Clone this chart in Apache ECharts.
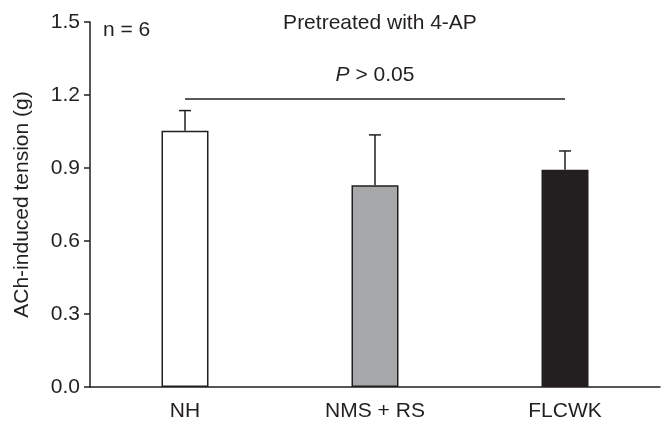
<!DOCTYPE html>
<html>
<head>
<meta charset="utf-8">
<script src="https://cdn.jsdelivr.net/npm/echarts@6/dist/echarts.min.js"></script>
<style>
html,body{margin:0;padding:0;background:#fff;}
#c{width:670px;height:432px;}
</style>
</head>
<body>
<div id="c"></div>
<script>
const categories = ['NH', 'NMS + RS', 'FLCWK'];
const means = [1.053, 0.829, 0.893];
const errUpper = [1.136, 1.036, 0.970];
const barColors = ['#ffffff', '#a7a8aa', '#231f20'];
const yTicks = [0.0, 0.3, 0.6, 0.9, 1.2, 1.5];
const sigLevel = 1.184;
const sigText = '> 0.05';

const FONT = '"Liberation Sans", Arial, sans-serif';
const FS = 21;
const chart = echarts.init(document.getElementById('c'));

const barData = means.map((v, i) => ({
  value: v,
  itemStyle: { color: barColors[i], borderColor: '#231f20', borderWidth: 1.5 }
}));
const errData = means.map((v, i) => [i, v, errUpper[i]]);

chart.setOption({
  animation: false,
  backgroundColor: '#fff',
  title: {
    text: 'Pretreated with 4-AP',
    left: 375, top: 8, textAlign: 'center',
    textStyle: { fontFamily: FONT, fontSize: FS, fontWeight: 'normal', color: '#231f20' }
  },
  graphic: [{
    type: 'text', left: 103, top: 20,
    style: { text: 'n = 6', font: FS + 'px ' + FONT, fill: '#231f20' }
  }],
  grid: { left: 90, right: 10, top: 22, bottom: 45 },
  xAxis: {
    type: 'category',
    data: categories,
    axisLine: { lineStyle: { color: '#231f20', width: 1.5 } },
    axisTick: { length: 8, lineStyle: { color: '#231f20', width: 1.5 } },
    axisLabel: { fontFamily: FONT, fontSize: FS, color: '#231f20', margin: 14 }
  },
  yAxis: {
    type: 'value',
    min: yTicks[0], max: yTicks[yTicks.length - 1], interval: 0.3,
    name: 'ACh-induced tension (g)',
    nameLocation: 'middle', nameGap: 57,
    nameTextStyle: { fontFamily: FONT, fontSize: FS, color: '#231f20' },
    axisLine: { show: true, lineStyle: { color: '#231f20', width: 1.5 } },
    axisTick: { show: true, length: 6, lineStyle: { color: '#231f20', width: 1.5 } },
    splitLine: { show: false },
    axisLabel: { fontFamily: FONT, fontSize: FS, color: '#231f20', margin: 10,
      formatter: v => v.toFixed(1) }
  },
  series: [{
    type: 'bar',
    data: barData,
    barWidth: 47,
    markLine: {
      silent: true, symbol: 'none',
      lineStyle: { color: '#231f20', width: 1.5, type: 'solid' },
      label: {
        show: true, position: 'middle', distance: 13,
        formatter: '{i|P} ' + sigText,
        fontFamily: FONT, fontSize: FS, color: '#231f20',
        rich: { i: { fontStyle: 'italic', fontFamily: FONT, fontSize: FS, color: '#231f20' } }
      },
      data: [[{ coord: [categories[0], sigLevel] }, { coord: [categories[2], sigLevel] }]]
    }
  }, {
    type: 'custom',
    data: errData,
    z: 1,
    renderItem: function (params, api) {
      const b = api.coord([api.value(0), api.value(1)]);
      const t = api.coord([api.value(0), api.value(2)]);
      const cap = 6;
      const st = { stroke: '#231f20', lineWidth: 1.5 };
      return { type: 'group', children: [
        { type: 'line', shape: { x1: b[0], y1: b[1], x2: t[0], y2: t[1] }, style: st },
        { type: 'line', shape: { x1: t[0] - cap, y1: t[1], x2: t[0] + cap, y2: t[1] }, style: st }
      ]};
    }
  }]
});
</script>
</body>
</html>
